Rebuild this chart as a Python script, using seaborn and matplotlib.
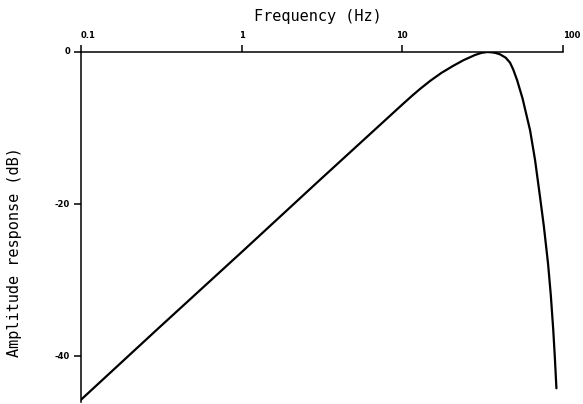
import matplotlib
matplotlib.use("Agg")
import matplotlib.pyplot as plt
import seaborn as sns
import numpy as np
import pandas as pd
from matplotlib.transforms import blended_transform_factory, offset_copy

# Data
freq_hz = [0.1, 0.3, 1, 3, 10, 11.5, 12.9, 15, 17.5, 20.6, 24, 28.3, 31, 33.8, 36,
           38, 40.5, 44, 46.8, 49, 51.8, 56, 62.4, 67, 72, 76, 80.7,
           84, 87, 89, 91]
amp_db = [-45.7, -36.4, -26.3, -17.0, -6.9, -5.75, -4.85, -3.75, -2.75, -1.85, -1.08,
          -0.4, -0.12, 0.0, -0.04, -0.12, -0.3, -0.75, -1.4, -2.3, -3.7, -6.1,
          -10.3, -14.2, -19.1, -22.9, -27.8, -32.0, -36.6, -40.2, -44.2]
x_ticks = [0.1, 1, 10, 100]
x_tick_labels = ["0.1", "1", "10", "100"]
y_ticks = [0, -20, -40]
y_tick_labels = ["0", "-20", "-40"]

df = pd.DataFrame({"freq": freq_hz, "amp": amp_db})

sns.set_style("white")
plt.rcParams['font.family'] = ['DejaVu Sans']
plt.rcParams['text.color'] = 'black'

fig = plt.figure(figsize=(5.83, 4.04), dpi=100)
ax = fig.add_axes([81/583, 1 - 402/404, (563 - 81)/583, (402 - 52)/404])

sns.lineplot(data=df, x="freq", y="amp", ax=ax, color="black",
             linewidth=1.6, sort=False, estimator=None)

ax.set_xscale("log")
ax.set_xlim(0.1, 100)
ax.set_ylim(-46, 0)
ax.set_xlabel("")
ax.set_ylabel("")

for s in ["right", "bottom"]:
    ax.spines[s].set_visible(False)
for s in ["left", "top"]:
    ax.spines[s].set_visible(True)
    ax.spines[s].set_color("black")
    ax.spines[s].set_linewidth(1.1)

ax.xaxis.tick_top()
ax.set_xticks(x_ticks)
ax.xaxis.set_minor_locator(matplotlib.ticker.NullLocator())
ax.set_xticklabels([])
ax.tick_params(axis="x", which="major", direction="out", length=5, width=1.1,
               top=True, bottom=False, color="black")
ax.set_yticks(y_ticks)
ax.set_yticklabels([])
ax.tick_params(axis="y", direction="out", length=5, width=1.1, left=True,
               color="black")

# tick labels placed like the plotter output
tx = blended_transform_factory(ax.transData, ax.transAxes)
ha_list = ["left", "center", "center", "left"]
for v, lab, ha in zip(x_ticks, x_tick_labels, ha_list):
    ax.text(v, 1.0, lab, transform=offset_copy(tx, fig=fig, x=0, y=9, units="points"),
            ha=ha, va="bottom", fontsize=6, fontweight="bold", color="black")
ty = blended_transform_factory(ax.transAxes, ax.transData)
for v, lab in zip(y_ticks, y_tick_labels):
    ax.text(0.0, v, lab, transform=offset_copy(ty, fig=fig, x=-8, y=0, units="points"),
            ha="right", va="center", fontsize=6, fontweight="bold", color="black")

fig.text(318/583, 1 - 17/404, "Frequency (Hz)", ha="center", va="center",
         fontsize=11, family="DejaVu Sans Mono", color="black")
fig.text(15/583, 1 - 252/404, "Amplitude response (dB)", ha="center",
         va="center", rotation=90, fontsize=11, family="DejaVu Sans Mono",
         color="black")

ax.grid(False)
fig.savefig("out.png", dpi=100)
